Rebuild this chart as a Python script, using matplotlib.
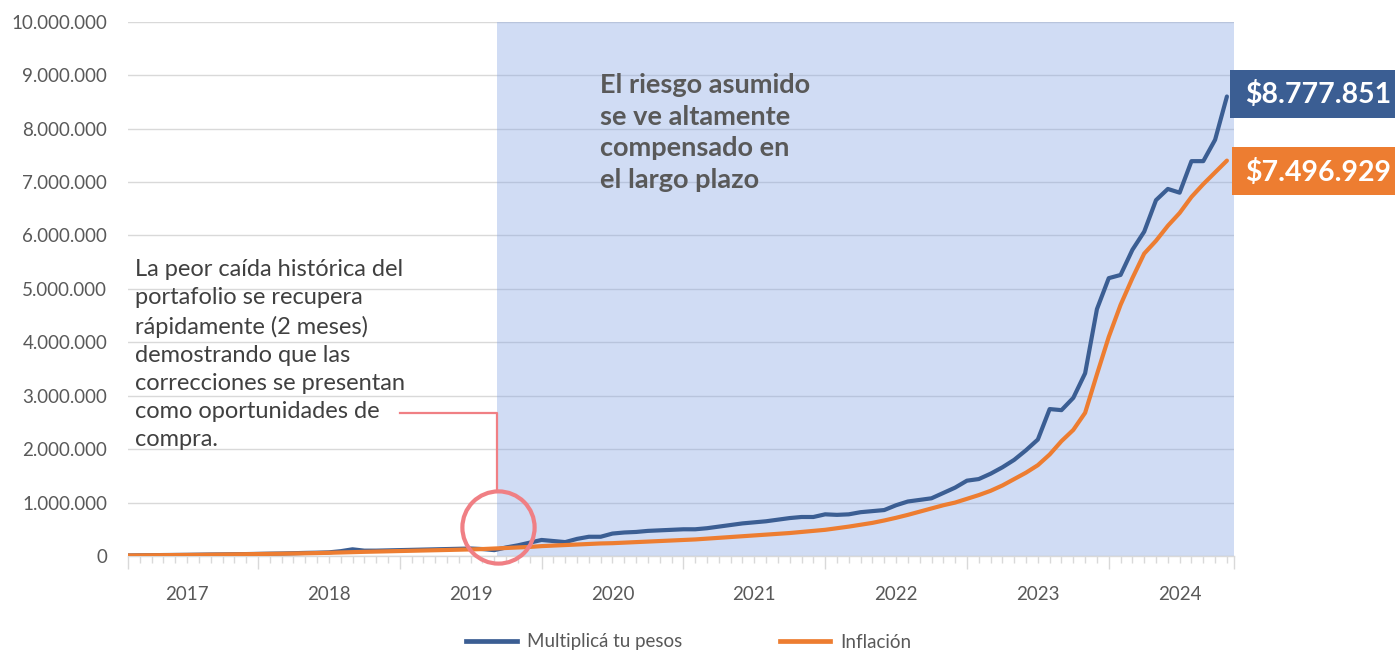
import numpy as np
import matplotlib
matplotlib.use('Agg')
import matplotlib.pyplot as plt
from matplotlib.patches import Rectangle
from matplotlib.lines import Line2D
import matplotlib.transforms as mtransforms

# ---------------- data ----------------
years = ['2017', '2018', '2019', '2020', '2021', '2022', '2023', '2024']
# monthly observations (index 0 = first month shown, Feb 2017)
month_index = np.arange(94)

portfolio_millions = [
    0.010, 0.013, 0.015, 0.018, 0.020, 0.022, 0.025, 0.028, 0.030, 0.033,
    0.036, 0.040, 0.044, 0.047, 0.052, 0.058, 0.062, 0.068, 0.090, 0.125,
    0.100, 0.100, 0.105, 0.110, 0.115, 0.120, 0.125, 0.130, 0.135, 0.140,
    0.130, 0.110, 0.160, 0.200, 0.250, 0.300, 0.280, 0.260, 0.320, 0.360,
    0.360, 0.420, 0.440, 0.450, 0.470, 0.480, 0.490, 0.500, 0.500, 0.520,
    0.550, 0.580, 0.610, 0.630, 0.650, 0.680, 0.710, 0.730, 0.730, 0.780,
    0.770, 0.780, 0.820, 0.840, 0.860, 0.950, 1.020, 1.050, 1.080, 1.180,
    1.280, 1.410, 1.440, 1.540, 1.660, 1.800, 1.980, 2.180, 2.750, 2.730,
    2.960, 3.420, 4.620, 5.200, 5.260, 5.730, 6.070, 6.660, 6.870, 6.800,
    7.390, 7.390, 7.790, 8.600,
]
inflation_millions = [
    0.010, 0.012, 0.014, 0.016, 0.018, 0.020, 0.022, 0.025, 0.028, 0.031,
    0.034, 0.037, 0.040, 0.043, 0.047, 0.051, 0.055, 0.060, 0.066, 0.072,
    0.078, 0.083, 0.088, 0.093, 0.098, 0.103, 0.108, 0.113, 0.118, 0.123,
    0.130, 0.140, 0.150, 0.160, 0.170, 0.185, 0.195, 0.205, 0.215, 0.225,
    0.235, 0.240, 0.250, 0.260, 0.270, 0.280, 0.290, 0.300, 0.310, 0.325,
    0.340, 0.355, 0.370, 0.385, 0.400, 0.415, 0.430, 0.450, 0.470, 0.490,
    0.520, 0.550, 0.585, 0.620, 0.665, 0.715, 0.770, 0.830, 0.890, 0.950,
    1.000, 1.070, 1.140, 1.220, 1.320, 1.440, 1.560, 1.700, 1.900, 2.150,
    2.360, 2.680, 3.400, 4.100, 4.700, 5.200, 5.660, 5.900, 6.180, 6.420,
    6.720, 6.960, 7.180, 7.400,
]
series_names = ['Multiplicá tu pesos', 'Inflación']
final_labels = ['$8.777.851', '$7.496.929']
y_ticks = [0, 1_000_000, 2_000_000, 3_000_000, 4_000_000, 5_000_000,
           6_000_000, 7_000_000, 8_000_000, 9_000_000, 10_000_000]

note_text = ("La peor caída histórica del\nportafolio se recupera\n"
             "rápidamente (2 meses)\ndemostrando que las\n"
             "correcciones se presentan\ncomo oportunidades de\ncompra.")
highlight_text = "El riesgo asumido\nse ve altamente\ncompensado en\nel largo plazo"

# ---------------- style ----------------
BLUE = '#3B5E93'
ORANGE = '#ED7D31'
GRID = '#D9D9D9'
TXT = '#595959'
NOTE = '#F07F84'

plt.rcParams['font.family'] = ['Lato', 'DejaVu Sans']

W, H = 1395, 650
fig = plt.figure(figsize=(W / 100, H / 100), dpi=100)
ax = fig.add_axes([128 / W, 1 - 556 / H, (1234 - 128) / W, (556 - 21.7) / H])

portfolio = np.array(portfolio_millions) * 1e6
inflation = np.array(inflation_millions) * 1e6

x_end = 93.6
shade_start = 31.2

ax.set_xlim(0, x_end)
ax.set_ylim(0, 10_000_000)

# grid
ax.set_yticks(y_ticks)
ax.set_yticklabels([f"{v:,}".replace(',', '.') for v in y_ticks])
ax.yaxis.grid(True, color=GRID, linewidth=1.0, zorder=0)
ax.set_axisbelow(True)

# shaded region
ax.axvspan(shade_start, x_end, facecolor=(0.50, 0.63, 0.89), alpha=0.37,
           linewidth=0, zorder=1)

# lines
ax.plot(month_index, portfolio, color=BLUE, lw=3.0, zorder=4,
        solid_joinstyle='round', solid_capstyle='round')
ax.plot(month_index, inflation, color=ORANGE, lw=3.0, zorder=5,
        solid_joinstyle='round', solid_capstyle='round')

# spines / ticks
for s in ['top', 'right', 'left']:
    ax.spines[s].set_visible(False)
ax.spines['bottom'].set_color(GRID)
ax.spines['bottom'].set_linewidth(1.0)

year_bounds = [11 + 12 * k for k in range(7)]
ax.set_xticks([0] + year_bounds + [x_end])
ax.set_xticklabels([])
ax.set_xticks(np.arange(0, 94, 1), minor=True)
ax.tick_params(axis='x', which='major', length=9, color=GRID, width=1.0)
ax.tick_params(axis='x', which='minor', length=5, color=GRID, width=1.0)
ax.tick_params(axis='y', length=0, pad=15, labelsize=13.5, labelcolor=TXT)

trans = mtransforms.blended_transform_factory(ax.transData, ax.transAxes)
for k, yl in enumerate(years):
    ax.text(5 + 12 * k, -38 / 534.3, yl, transform=trans, ha='center',
            va='center', fontsize=13.5, color=TXT)

# annotation circle and connector
circle_y = 0.54e6
ax.plot([shade_start + 0.1], [circle_y], marker='o', markersize=52,
        markerfacecolor='none', markeredgecolor=NOTE, markeredgewidth=3.0,
        zorder=6, clip_on=False)
ax.plot([shade_start, shade_start, 23.0], [1.22e6, 2.68e6, 2.68e6],
        color=NOTE, lw=1.6, zorder=6)

fig.text(135 / W, 1 - 259 / H, note_text, ha='left', va='top',
         fontsize=17, color='#404040', linespacing=1.42)
fig.text(600 / W, 1 - 73 / H, highlight_text, ha='left', va='top',
         fontsize=19.5, color=TXT, fontweight='bold', linespacing=1.38)

# end value boxes
fig.patches.append(Rectangle((1230 / W, 1 - 118 / H), (W - 1230) / W, 48 / H,
                             transform=fig.transFigure, facecolor=BLUE,
                             edgecolor='none', zorder=10))
fig.patches.append(Rectangle((1232 / W, 1 - 195 / H), (W - 1232) / W, 48 / H,
                             transform=fig.transFigure, facecolor=ORANGE,
                             edgecolor='none', zorder=10))
fig.text(1318 / W, 1 - 95 / H, final_labels[0], ha='center', va='center',
         fontsize=20.5, color='white', fontweight='bold', zorder=11)
fig.text(1318 / W, 1 - 172 / H, final_labels[1], ha='center', va='center',
         fontsize=20.5, color='white', fontweight='bold', zorder=11)

# legend
handles = [Line2D([], [], color=BLUE, lw=3.4), Line2D([], [], color=ORANGE, lw=3.4)]
leg = fig.legend(handles, series_names, loc='center',
                 bbox_to_anchor=(689 / W, 1 - 642 / H), ncol=2, frameon=False,
                 fontsize=13.5, handlelength=2.7, handletextpad=0.55,
                 columnspacing=5.2, labelcolor=TXT)

fig.savefig('out.png', dpi=100)
